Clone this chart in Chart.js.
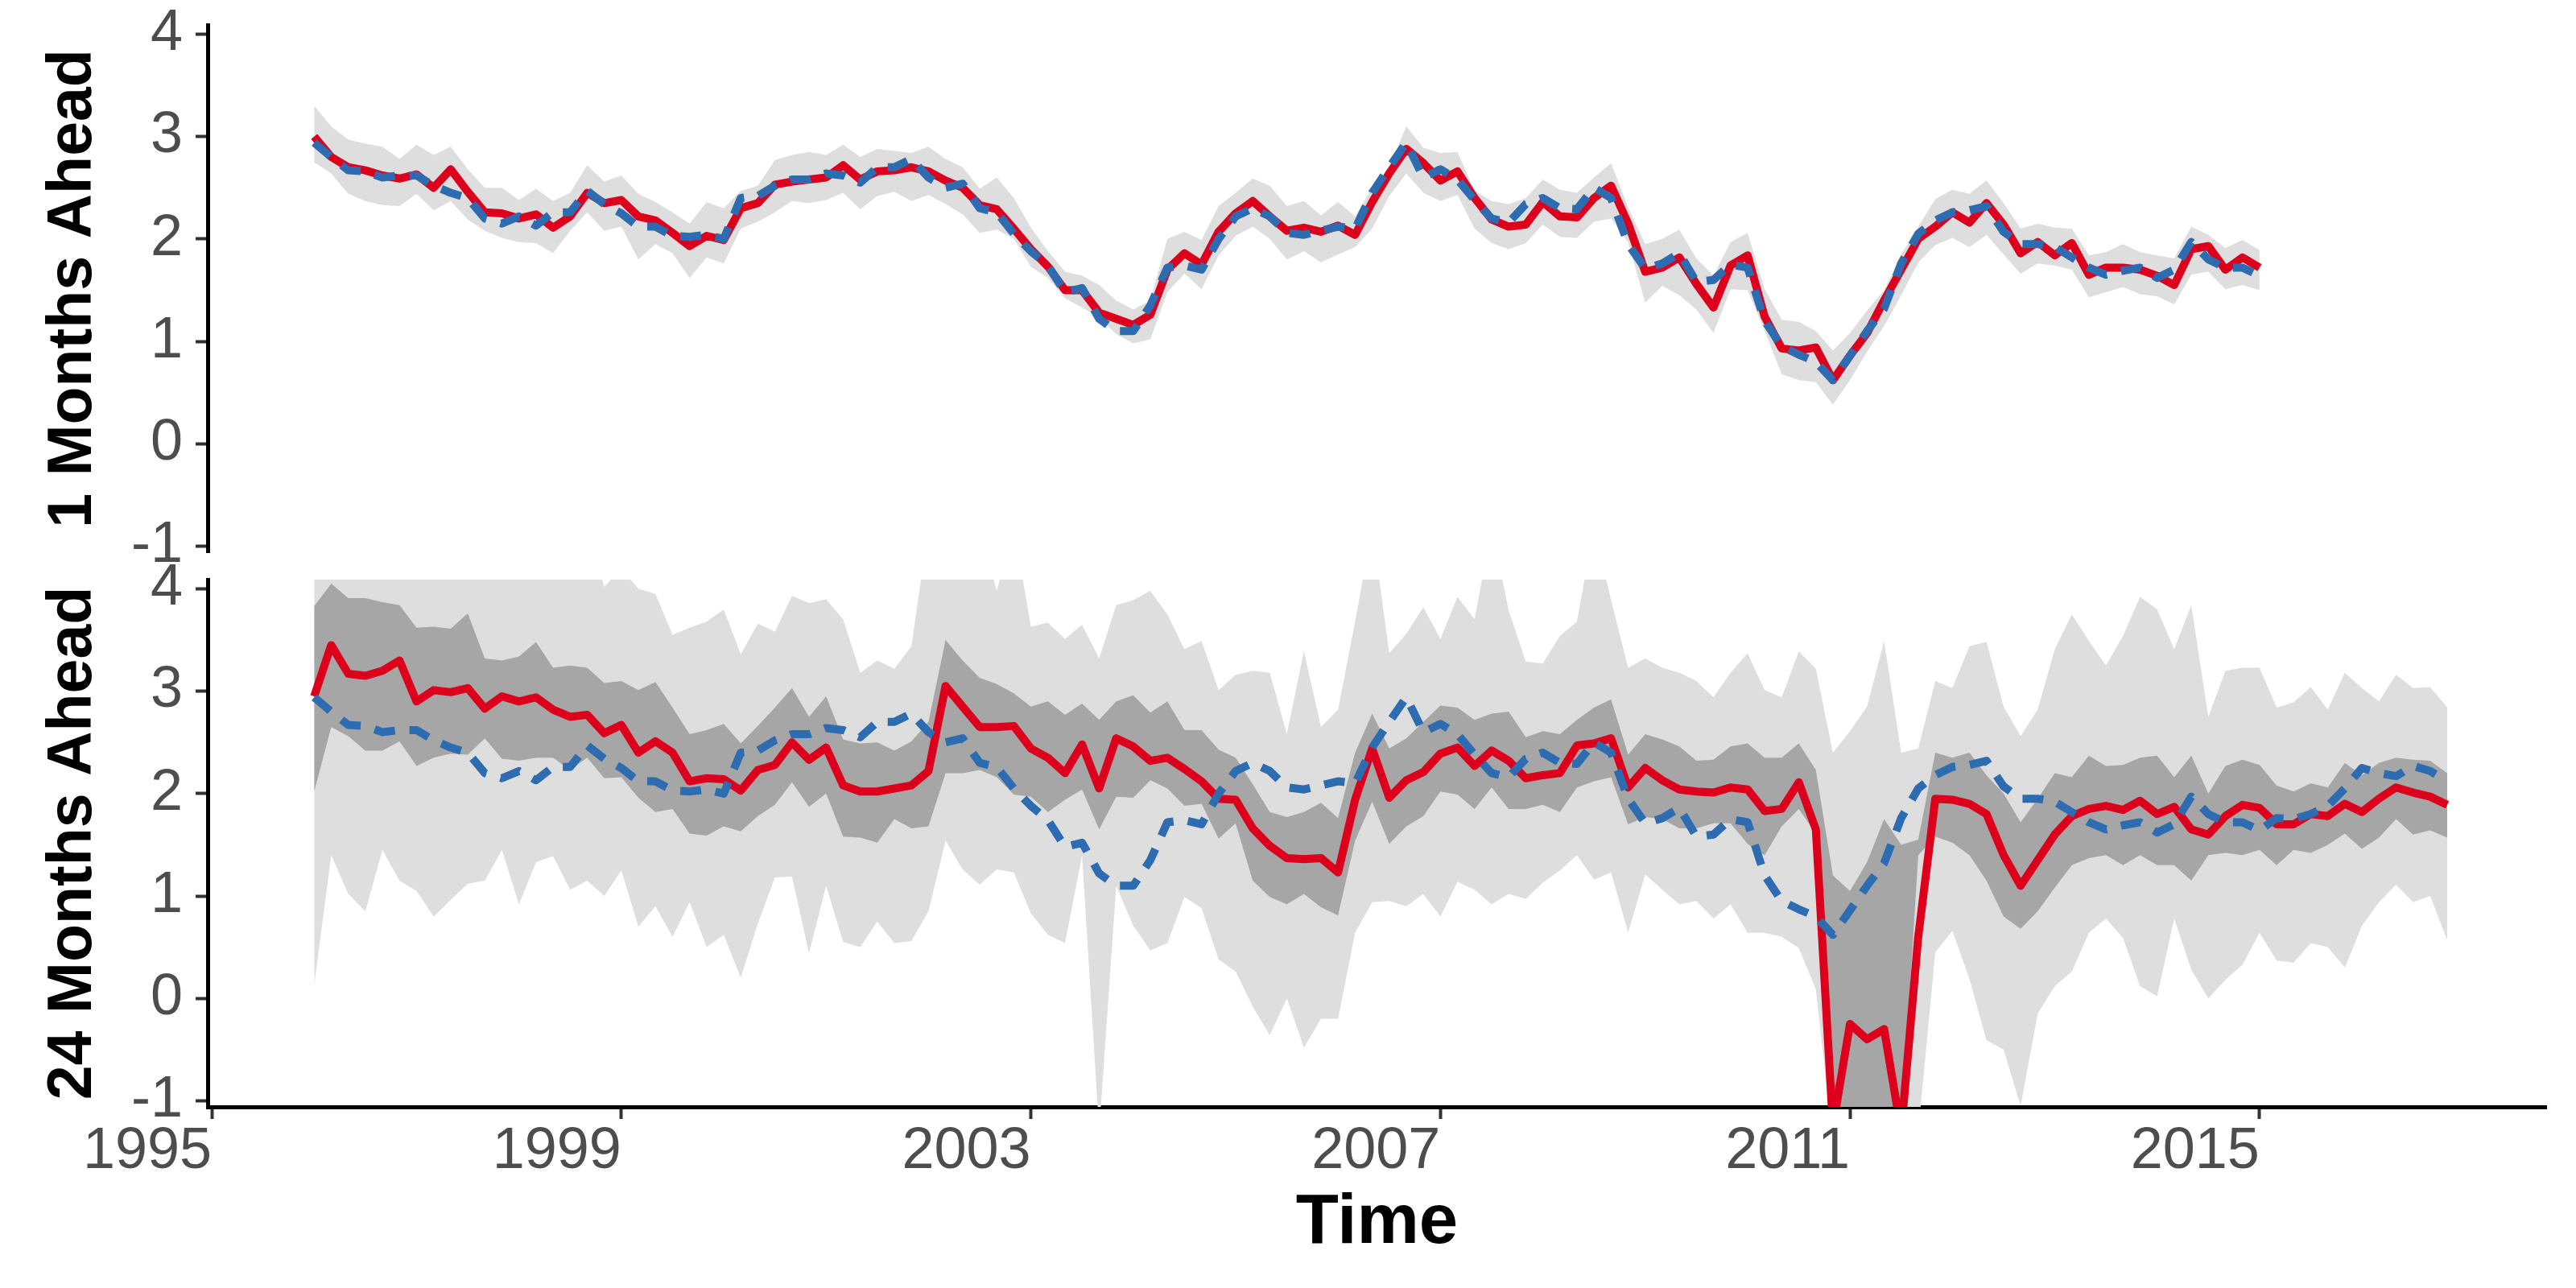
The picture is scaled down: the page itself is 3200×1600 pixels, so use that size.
<!DOCTYPE html>
<html>
<head>
<meta charset="utf-8">
<script src="https://cdn.jsdelivr.net/npm/chart.js@4.4.1/dist/chart.umd.min.js"></script>
<style>
  html, body { margin: 0; padding: 0; background: #fff; }
  #wrap { position: relative; width: 3200px; height: 1600px; }
  canvas { position: absolute; left: 0; }
  #top { top: 0; }
  #bottom { top: 700px; }
</style>
</head>
<body>
<div id="wrap">
  <canvas id="top" width="3200" height="720"></canvas>
  <canvas id="bottom" width="3200" height="900"></canvas>
</div>
<script>
// one value every two months, starting January 1996
const startYear = 1996;
const stepYears = 1 / 6;

const yTicks = [-1, 0, 1, 2, 3, 4];
const xTicks = [1995, 1999, 2003, 2007, 2011, 2015];

// realised series (blue dashed), same in both panels
const actual = [
  2.94, 2.80, 2.67, 2.66, 2.60, 2.62, 2.62, 2.52, 2.45, 2.40,
  2.20, 2.15, 2.22, 2.13, 2.26, 2.26, 2.47, 2.34, 2.25, 2.12,
  2.12, 2.03, 2.02, 2.04, 2.00, 2.40, 2.42, 2.52, 2.58, 2.58,
  2.64, 2.62, 2.55, 2.70, 2.70, 2.78, 2.60, 2.50, 2.54, 2.30,
  2.26, 2.05, 1.88, 1.74, 1.48, 1.52, 1.22, 1.10, 1.10, 1.35,
  1.72, 1.74, 1.70, 2.00, 2.22, 2.30, 2.22, 2.06, 2.04, 2.08,
  2.12, 2.10, 2.45, 2.70, 2.94, 2.60, 2.68, 2.58, 2.38, 2.20,
  2.16, 2.34, 2.40, 2.30, 2.29, 2.50, 2.40, 1.95, 1.71, 1.76,
  1.86, 1.58, 1.60, 1.75, 1.72, 1.20, 0.95, 0.87, 0.80, 0.62,
  0.86, 1.10, 1.32, 1.76, 2.05, 2.18, 2.26, 2.28, 2.32, 2.07,
  1.95, 1.95, 1.92, 1.82, 1.72, 1.65, 1.69, 1.72, 1.62, 1.70,
  1.97, 1.80, 1.72, 1.72, 1.64, 1.76, 1.75, 1.80, 1.88, 2.05,
  2.25, 2.20, 2.17, 2.27, 2.22, 2.12
];

// 1 month ahead forecast and its band
const fc1 = [
  3.00, 2.80, 2.70, 2.67, 2.62, 2.59, 2.63, 2.50, 2.68, 2.46,
  2.26, 2.25, 2.20, 2.24, 2.11, 2.22, 2.45, 2.35, 2.38, 2.22,
  2.18, 2.06, 1.93, 2.03, 1.99, 2.30, 2.35, 2.53, 2.56, 2.58,
  2.60, 2.72, 2.58, 2.66, 2.67, 2.70, 2.66, 2.57, 2.50, 2.33,
  2.29, 2.10, 1.90, 1.73, 1.50, 1.50, 1.28, 1.22, 1.16, 1.26,
  1.70, 1.86, 1.75, 2.07, 2.25, 2.37, 2.22, 2.08, 2.11, 2.07,
  2.13, 2.04, 2.36, 2.64, 2.88, 2.74, 2.57, 2.66, 2.40, 2.19,
  2.12, 2.14, 2.36, 2.22, 2.21, 2.40, 2.52, 2.15, 1.68, 1.72,
  1.82, 1.56, 1.33, 1.74, 1.84, 1.24, 0.93, 0.91, 0.94, 0.62,
  0.86, 1.08, 1.40, 1.70, 2.00, 2.12, 2.26, 2.16, 2.35, 2.14,
  1.86, 1.97, 1.84, 1.96, 1.65, 1.72, 1.72, 1.70, 1.64, 1.55,
  1.90, 1.93, 1.70, 1.82, 1.72
];
const fc1Lo = [
  2.75, 2.64, 2.44, 2.37, 2.33, 2.32, 2.44, 2.28, 2.37, 2.19,
  2.08, 2.01, 1.97, 1.96, 1.86, 2.08, 2.26, 2.08, 2.12, 1.80,
  1.95, 1.86, 1.62, 1.82, 1.76, 2.10, 2.17, 2.26, 2.37, 2.35,
  2.38, 2.45, 2.29, 2.42, 2.46, 2.37, 2.43, 2.34, 2.24, 2.06,
  2.09, 2.00, 1.73, 1.62, 1.42, 1.33, 1.23, 1.07, 0.98, 1.02,
  1.48, 1.66, 1.51, 1.84, 2.03, 2.12, 2.00, 1.80, 1.88, 1.77,
  1.85, 1.92, 2.10, 2.42, 2.64, 2.45, 2.37, 2.43, 2.10, 1.96,
  1.90, 1.96, 2.14, 2.02, 2.01, 2.17, 2.20, 1.97, 1.38, 1.54,
  1.45, 1.31, 1.08, 1.51, 1.50, 1.10, 0.68, 0.62, 0.60, 0.38,
  0.62, 0.90, 1.15, 1.45, 1.77, 1.94, 2.01, 1.92, 2.04, 1.85,
  1.66, 1.76, 1.74, 1.70, 1.43, 1.48, 1.53, 1.46, 1.44, 1.36,
  1.65, 1.68, 1.51, 1.55, 1.50
];
const fc1Hi = [
  3.30, 3.10, 2.97, 2.93, 2.90, 2.78, 2.92, 2.82, 2.90, 2.68,
  2.50, 2.50, 2.38, 2.49, 2.37, 2.45, 2.72, 2.56, 2.62, 2.44,
  2.36, 2.26, 2.15, 2.36, 2.30, 2.47, 2.52, 2.77, 2.82, 2.85,
  2.82, 2.92, 2.80, 2.88, 2.86, 2.84, 2.90, 2.78, 2.70, 2.49,
  2.60, 2.40, 2.11, 1.88, 1.68, 1.64, 1.55, 1.40, 1.31, 1.40,
  2.00, 2.07, 1.99, 2.32, 2.45, 2.59, 2.52, 2.32, 2.37, 2.23,
  2.36, 2.22, 2.50, 2.70, 3.10, 2.89, 2.84, 2.85, 2.47, 2.37,
  2.34, 2.40, 2.58, 2.48, 2.45, 2.60, 2.74, 2.31, 1.95, 2.00,
  2.09, 1.81, 1.64, 1.97, 2.06, 1.51, 1.21, 1.19, 1.10, 0.91,
  1.08, 1.30, 1.50, 1.85, 2.12, 2.39, 2.48, 2.44, 2.57, 2.35,
  2.10, 2.15, 2.11, 2.10, 1.84, 1.87, 1.95, 1.87, 1.84, 1.81,
  2.12, 2.04, 1.91, 1.99, 1.89
];

// 24 months ahead forecast, inner and outer bands
const fc24 = [
  2.95, 3.45, 3.17, 3.15, 3.20, 3.30, 2.90, 3.01, 2.99, 3.03,
  2.83, 2.95, 2.90, 2.94, 2.82, 2.75, 2.77, 2.59, 2.67, 2.40,
  2.51, 2.40, 2.12, 2.15, 2.14, 2.03, 2.23, 2.28, 2.50, 2.33,
  2.45, 2.08, 2.02, 2.02, 2.05, 2.08, 2.22, 3.05, 2.85, 2.65,
  2.65, 2.66, 2.44, 2.35, 2.20, 2.48, 2.05, 2.54, 2.46, 2.32,
  2.35, 2.24, 2.12, 1.95, 1.94, 1.66, 1.49, 1.37, 1.36, 1.37,
  1.23, 1.94, 2.44, 1.96, 2.13, 2.21, 2.39, 2.45, 2.27, 2.42,
  2.32, 2.15, 2.18, 2.20, 2.47, 2.49, 2.54, 2.06, 2.25, 2.13,
  2.04, 2.02, 2.01, 2.06, 2.04, 1.83, 1.85, 2.11, 1.65, -1.25,
  -0.25, -0.40, -0.30, -1.30, 0.60, 1.95, 1.94, 1.90, 1.80, 1.40,
  1.10, 1.35, 1.60, 1.78, 1.85, 1.88, 1.84, 1.93, 1.80, 1.87,
  1.65, 1.60, 1.78, 1.89, 1.86, 1.70, 1.70, 1.80, 1.78, 1.90,
  1.82, 1.95, 2.06, 2.01, 1.97, 1.89
];
const fc24InnerLo = [
  2.02, 2.65, 2.56, 2.42, 2.42, 2.51, 2.27, 2.35, 2.39, 2.38,
  2.54, 2.34, 2.32, 2.35, 2.35, 2.23, 2.35, 2.15, 2.16, 1.96,
  1.82, 1.85, 1.61, 1.59, 1.68, 1.63, 1.78, 1.89, 2.11, 1.87,
  2.00, 1.58, 1.57, 1.52, 1.75, 1.66, 1.68, 2.20, 2.20, 2.23,
  2.16, 1.99, 1.97, 1.82, 1.94, 2.04, 1.65, 1.97, 1.96, 2.13,
  2.05, 1.88, 1.90, 1.56, 1.71, 1.15, 0.99, 0.92, 1.02, 0.89,
  0.81, 1.54, 1.92, 1.51, 1.68, 1.78, 2.02, 1.99, 1.85, 2.06,
  1.85, 1.85, 1.89, 1.82, 2.06, 2.12, 2.16, 1.70, 1.77, 1.75,
  1.66, 1.66, 1.71, 1.71, 1.51, 1.40, 1.68, 1.85, 1.61, -1.30,
  -1.30, -1.30, -1.30, -1.30, 1.40, 1.58, 1.52, 1.40, 1.15, 0.80,
  0.68, 0.85, 1.08, 1.30, 1.37, 1.40, 1.30, 1.40, 1.30, 1.30,
  1.15, 1.40, 1.42, 1.40, 1.45, 1.30, 1.45, 1.42, 1.50, 1.61,
  1.46, 1.57, 1.75, 1.60, 1.64, 1.57
];
const fc24InnerHi = [
  3.83, 4.05, 3.91, 3.91, 3.87, 3.84, 3.62, 3.63, 3.61, 3.76,
  3.32, 3.30, 3.34, 3.48, 3.23, 3.25, 3.23, 3.08, 3.10, 3.01,
  3.09, 2.84, 2.58, 2.62, 2.68, 2.49, 2.66, 2.84, 3.03, 2.75,
  2.95, 2.53, 2.49, 2.50, 2.42, 2.51, 2.70, 3.50, 3.30, 3.13,
  3.07, 2.98, 2.85, 2.90, 2.77, 2.88, 2.72, 2.90, 2.96, 2.79,
  2.90, 2.62, 2.62, 2.43, 2.35, 2.09, 1.82, 1.77, 1.82, 1.91,
  1.76, 2.40, 2.78, 2.44, 2.54, 2.70, 2.86, 2.84, 2.72, 2.78,
  2.80, 2.55, 2.61, 2.58, 2.72, 2.84, 2.92, 2.38, 2.58, 2.53,
  2.46, 2.32, 2.33, 2.46, 2.49, 2.35, 2.35, 2.49, 2.23, 1.20,
  1.05, 1.33, 1.75, 1.50, 1.55, 2.40, 2.35, 2.40, 2.18, 2.00,
  1.72, 1.95, 2.20, 2.16, 2.37, 2.27, 2.28, 2.35, 2.37, 2.16,
  2.37, 2.00, 2.27, 2.33, 2.28, 2.08, 2.02, 2.10, 2.06, 2.30,
  2.18, 2.30, 2.35, 2.33, 2.32, 2.20
];
// values of 4.6 / -1.4 run off the plotted range
const fc24OuterLo = [
  0.13, 1.40, 1.02, 0.85, 1.45, 1.15, 1.05, 0.80, 0.96, 1.12,
  1.15, 1.45, 0.92, 1.33, 1.39, 1.06, 1.15, 1.00, 1.25, 0.70,
  0.90, 0.60, 0.94, 0.50, 0.62, 0.20, 0.73, 1.18, 1.19, 0.44,
  1.10, 0.55, 0.50, 0.75, 0.54, 0.56, 0.85, 1.54, 1.26, 1.11,
  1.26, 1.23, 0.83, 0.62, 0.54, 1.40, -1.30, 1.10, 0.71, 0.47,
  0.54, 0.99, 0.88, 0.38, 0.26, -0.08, -0.36, 0.00, -0.48, -0.20,
  -0.20, 0.64, 0.94, 0.95, 0.90, 1.02, 0.80, 1.14, 1.06, 0.92,
  1.02, 0.97, 1.13, 1.25, 1.40, 1.16, 1.23, 0.64, 1.21, 1.06,
  0.92, 0.95, 0.78, 0.92, 0.64, 0.64, 0.60, 0.49, 0.09, -1.40,
  -1.40, -1.40, -1.40, -1.40, -1.30, 0.45, 0.66, 0.19, -0.41, -0.50,
  -1.05, -0.15, 0.12, 0.26, 0.64, 0.78, 0.59, 0.12, 0.02, 0.78,
  0.28, 0.00, 0.18, 0.33, 0.64, 0.37, 0.35, 0.54, 0.50, 0.30,
  0.71, 0.94, 1.11, 0.94, 1.00, 0.57
];
const fc24OuterHi = [
  4.6, 4.6, 4.6, 4.6, 4.6, 4.6, 4.6, 4.6, 4.6, 4.6,
  4.6, 4.6, 4.6, 4.6, 4.6, 4.6, 4.6, 4.02, 4.2, 4.00,
  3.95, 3.55, 3.62, 3.68, 3.80, 3.36, 3.66, 3.58, 3.93, 3.86,
  3.90, 3.70, 3.18, 3.30, 3.22, 3.44, 4.6, 4.6, 4.6, 4.6,
  3.98, 4.6, 3.63, 3.67, 3.51, 3.65, 3.32, 3.84, 3.89, 3.98,
  3.75, 3.41, 3.49, 3.01, 3.16, 3.20, 3.18, 2.58, 3.39, 2.65,
  2.82, 3.68, 4.6, 3.37, 3.56, 3.82, 3.51, 3.92, 3.70, 4.6,
  3.79, 3.29, 3.27, 3.54, 3.68, 4.6, 3.89, 3.23, 3.32, 3.23,
  3.18, 3.10, 2.94, 3.18, 3.37, 3.01, 2.94, 3.39, 3.22, 2.40,
  2.61, 2.85, 3.49, 2.40, 2.44, 3.10, 3.03, 3.44, 3.48, 2.85,
  2.56, 2.82, 3.41, 3.75, 3.49, 3.25, 3.54, 3.92, 3.80, 3.41,
  3.84, 2.75, 3.20, 3.23, 3.23, 2.84, 2.89, 3.04, 2.82, 3.18,
  3.03, 2.90, 3.16, 3.03, 3.04, 2.84
];

const FONT = '"Liberation Sans", Arial, sans-serif';
const RED = '#dc001c';
const BLUE = '#2d6cb0';
const LIGHT = '#dedede';
const DARK = '#a6a6a6';

Chart.defaults.font.family = FONT;

function pts(values) {
  return values.map((v, i) => ({ x: startYear + i * stepYears, y: v }));
}

function edge(values, order, fillColor) {
  return {
    data: pts(values),
    borderColor: 'rgba(0,0,0,0)',
    borderWidth: 1,
    pointRadius: 0,
    tension: 0,
    fill: fillColor ? '-1' : false,
    backgroundColor: fillColor || 'rgba(0,0,0,0)',
    order: order,
    clip: 0
  };
}

function lineSet(values, color, width, dash, order) {
  return {
    data: pts(values),
    borderColor: color,
    borderWidth: width,
    borderDash: dash,
    borderCapStyle: 'butt',
    borderJoinStyle: 'round',
    pointRadius: 0,
    tension: 0,
    fill: false,
    order: order,
    clip: 0
  };
}

function axisY(title) {
  return {
    min: -1.06,
    max: 4.09,
    z: 1,
    afterBuildTicks: s => { s.ticks = yTicks.map(v => ({ value: v })); },
    afterFit: s => { s.width = 258; s.paddingTop = 0; s.paddingBottom = 0; },
    ticks: {
      autoSkip: false,
      color: '#4d4d4d',
      font: { size: 72, lineHeight: 1 },
      padding: 16,
      callback: v => String(v)
    },
    grid: { display: true, drawOnChartArea: false, drawTicks: true, tickLength: 15, tickWidth: 4, tickColor: '#333333' },
    border: { display: true, color: '#000', width: 5 },
    title: {
      display: true,
      text: title,
      color: '#000',
      font: { size: 77, weight: 'bold', lineHeight: 1 },
      padding: { top: 53, bottom: 0 }
    }
  };
}

function axisX(show) {
  return {
    type: 'linear',
    min: 1994.96,
    max: 2017.8,
    display: show,
    z: 1,
    afterBuildTicks: s => { s.ticks = xTicks.map(v => ({ value: v })); },
    afterFit: s => {
      s.height = show ? 225 : 0;
      s.paddingLeft = 0;
      s.paddingRight = 0;
    },
    ticks: {
      autoSkip: false,
      maxRotation: 0,
      align: 'end',
      color: '#4d4d4d',
      font: { size: 72, lineHeight: 1 },
      padding: 5,
      callback: v => String(v)
    },
    grid: { display: true, drawOnChartArea: false, drawTicks: true, tickLength: 15, tickWidth: 4, tickColor: '#333333' },
    border: { display: true, color: '#000', width: 5 },
    title: {
      display: true,
      text: 'Time',
      color: '#000',
      font: { size: 87, weight: 'bold', lineHeight: 1 },
      padding: { top: 0, bottom: 36 }
    }
  };
}

function baseOptions(yTitle, showX, padding) {
  return {
    responsive: false,
    animation: false,
    devicePixelRatio: 1,
    events: [],
    layout: { padding: padding },
    plugins: { legend: { display: false }, tooltip: { enabled: false } },
    scales: { x: axisX(showX), y: axisY(yTitle) }
  };
}

new Chart(document.getElementById('top'), {
  type: 'line',
  data: {
    datasets: [
      edge(fc1Lo, 3),
      edge(fc1Hi, 2, LIGHT),
      lineSet(fc1, RED, 10, [], 1),
      lineSet(actual.slice(0, fc1.length), BLUE, 10, [26, 18], 0)
    ]
  },
  options: baseOptions('1 Months Ahead', false, { left: 0, right: 37, top: 31, bottom: 34 })
});

new Chart(document.getElementById('bottom'), {
  type: 'line',
  data: {
    datasets: [
      edge(fc24OuterLo, 5),
      edge(fc24OuterHi, 4, LIGHT),
      edge(fc24InnerLo, 3),
      edge(fc24InnerHi, 2, DARK),
      lineSet(fc24, RED, 10, [], 1),
      lineSet(actual, BLUE, 10, [26, 18], 0)
    ]
  },
  options: baseOptions('24 Months Ahead', true, { left: 0, right: 37, top: 20, bottom: 0 })
});
</script>
</body>
</html>
